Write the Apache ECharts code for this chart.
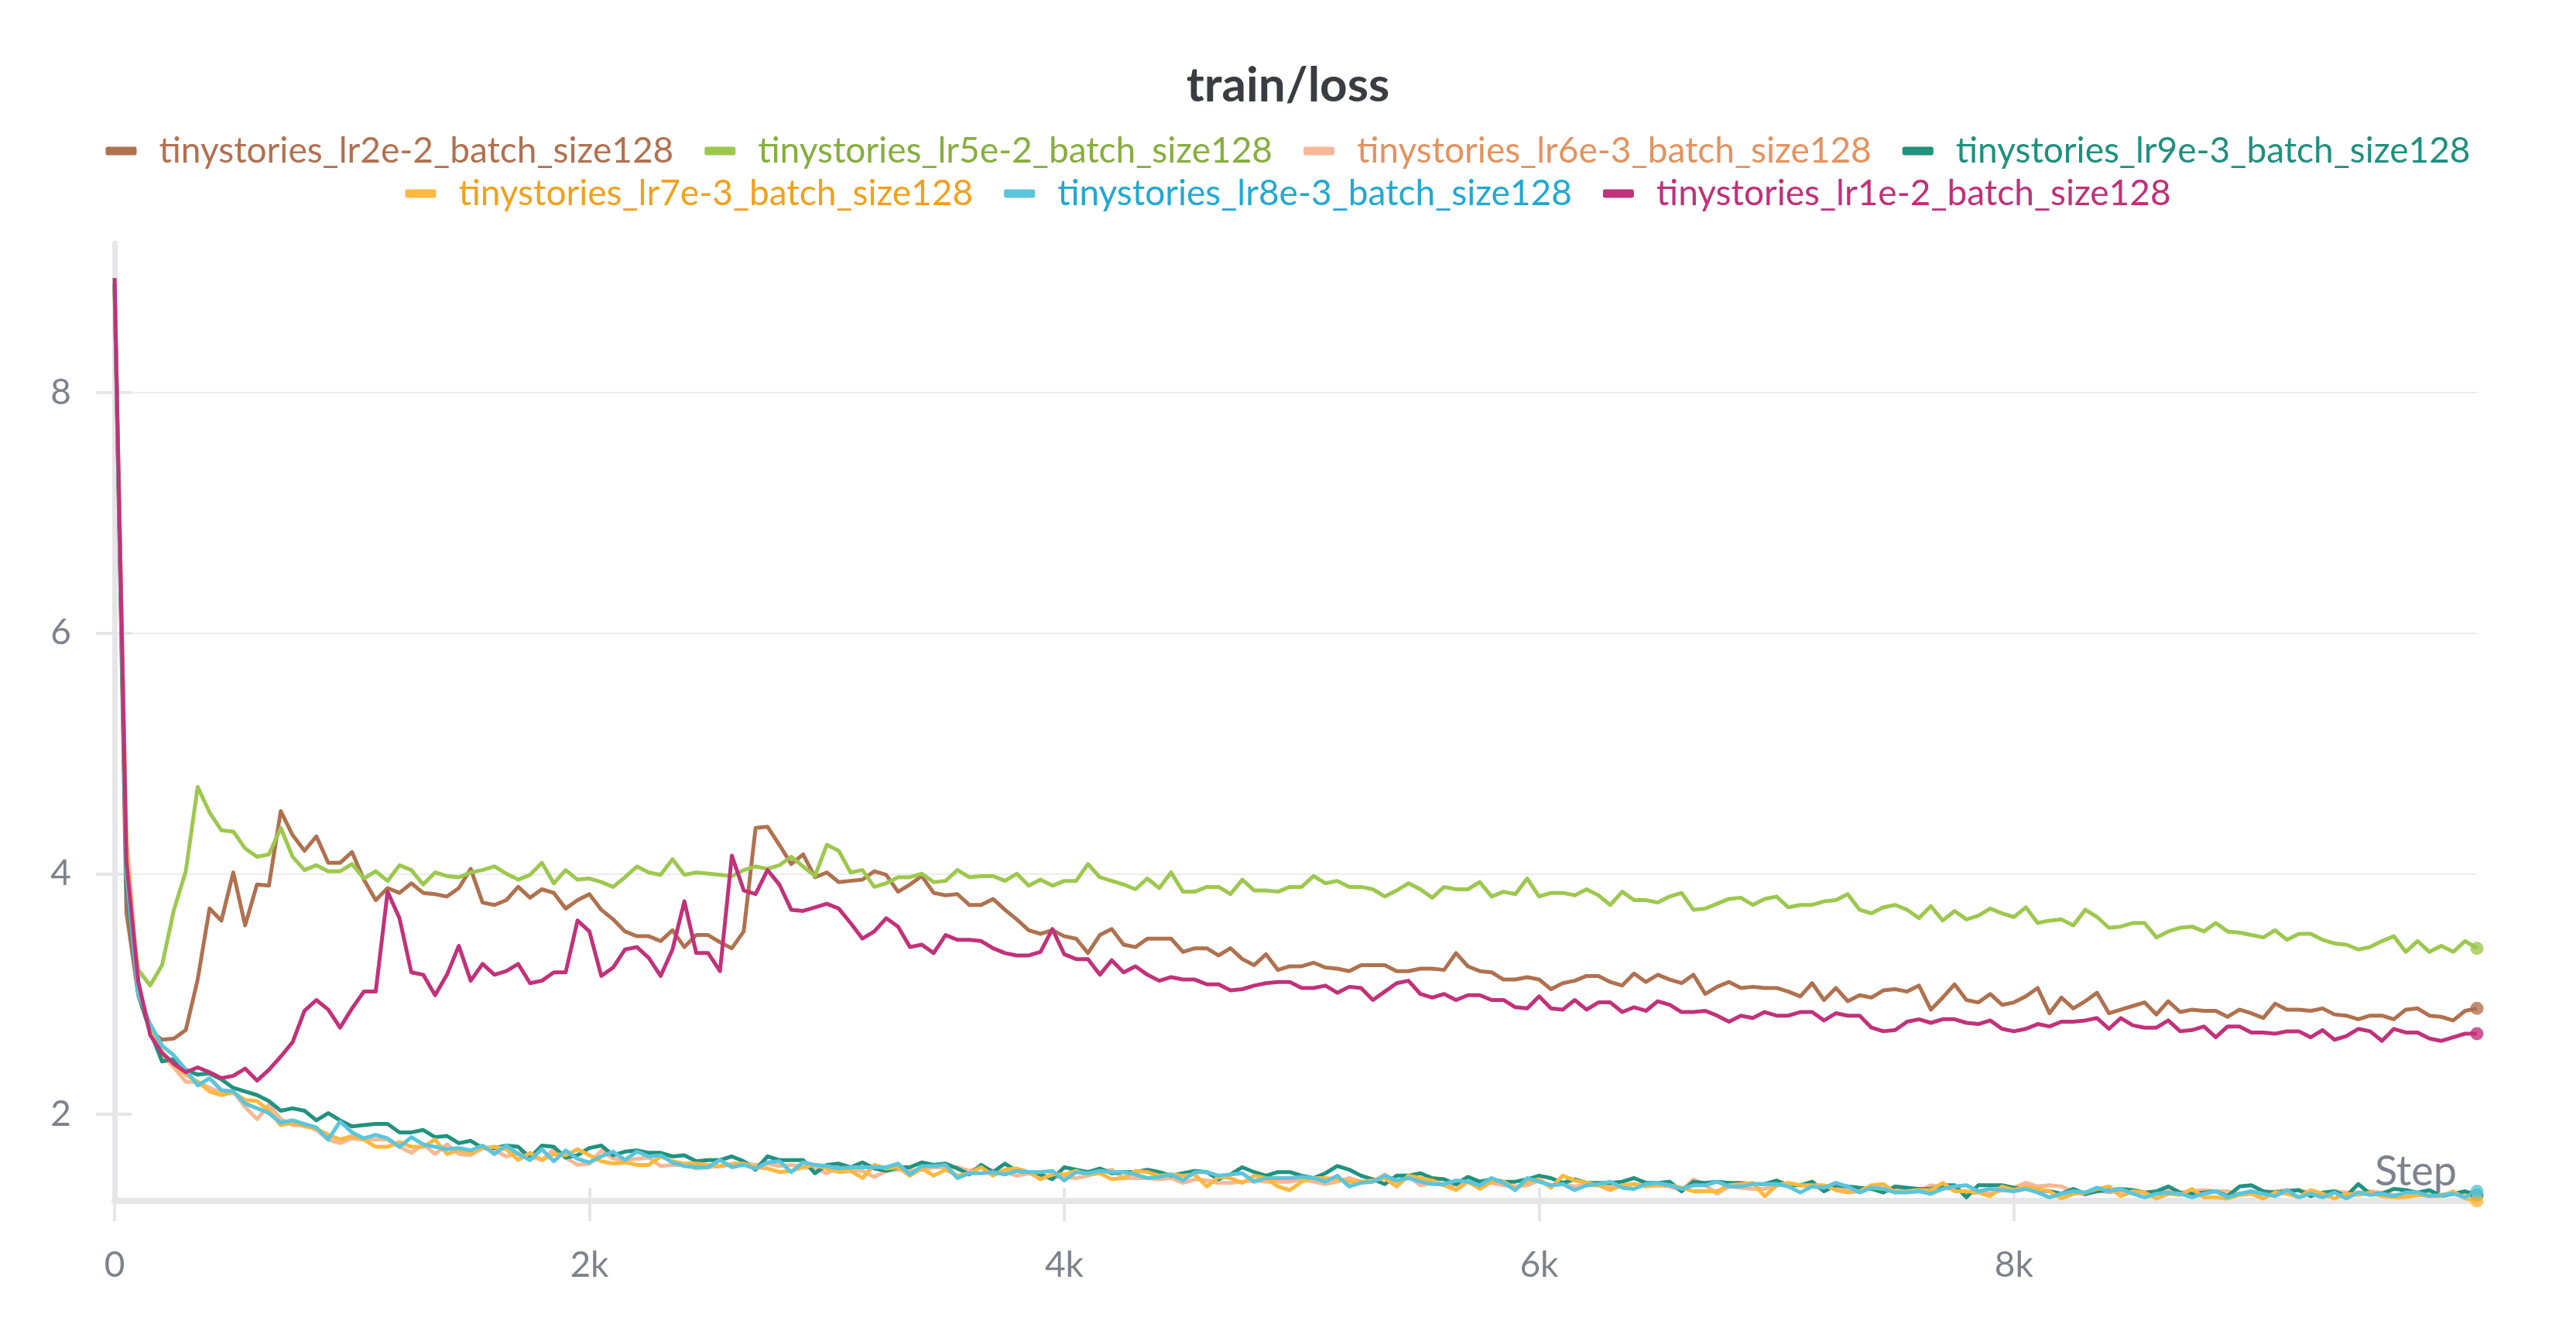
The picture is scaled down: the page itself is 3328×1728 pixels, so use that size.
<!DOCTYPE html>
<html><head><meta charset="utf-8">
<script src="https://cdn.jsdelivr.net/npm/echarts@6/dist/echarts.min.js"></script>
<style>html,body{margin:0;padding:0;background:#fff}#c{width:3328px;height:1728px}</style>
</head><body><div id="c"></div>
<script>
// logging interval of the runs (steps)
const STEP_INTERVAL = 50;

const seriesNames = [
  'tinystories_lr2e-2_batch_size128',
  'tinystories_lr5e-2_batch_size128',
  'tinystories_lr6e-3_batch_size128',
  'tinystories_lr9e-3_batch_size128',
  'tinystories_lr7e-3_batch_size128',
  'tinystories_lr8e-3_batch_size128',
  'tinystories_lr1e-2_batch_size128'
];

const lr2e2 = [
  8.9, 3.68, 2.99, 2.69, 2.62, 2.63, 2.70, 3.12, 3.71, 3.61,
  4.01, 3.57, 3.91, 3.90, 4.52, 4.32, 4.19, 4.31, 4.09, 4.09,
  4.18, 3.95, 3.78, 3.88, 3.84, 3.92, 3.84, 3.83, 3.81, 3.88,
  4.04, 3.76, 3.74, 3.78, 3.89, 3.80, 3.87, 3.84, 3.71, 3.78,
  3.83, 3.70, 3.62, 3.52, 3.48, 3.48, 3.44, 3.53, 3.39, 3.49,
  3.49, 3.43, 3.38, 3.52, 4.38, 4.39, 4.24, 4.08, 4.16, 3.97,
  4.01, 3.93, 3.94, 3.95, 4.02, 3.99, 3.85, 3.91, 3.98, 3.84,
  3.82, 3.83, 3.74, 3.74, 3.79, 3.70, 3.62, 3.53, 3.50, 3.53,
  3.48, 3.46, 3.34, 3.49, 3.54, 3.41, 3.39, 3.46, 3.46, 3.46,
  3.35, 3.38, 3.38, 3.32, 3.38, 3.29, 3.24, 3.33, 3.20, 3.23,
  3.23, 3.26, 3.22, 3.21, 3.19, 3.24, 3.24, 3.24, 3.19, 3.19,
  3.21, 3.21, 3.20, 3.34, 3.23, 3.19, 3.18, 3.12, 3.12, 3.14,
  3.12, 3.04, 3.09, 3.11, 3.15, 3.15, 3.10, 3.07, 3.17, 3.10,
  3.16, 3.12, 3.09, 3.16, 3.00, 3.06, 3.10, 3.05, 3.06, 3.05,
  3.05, 3.02, 2.98, 3.09, 2.95, 3.05, 2.94, 2.99, 2.97, 3.03,
  3.04, 3.02, 3.07, 2.87, 2.97, 3.08, 2.95, 2.93, 3.00, 2.91,
  2.93, 2.98, 3.05, 2.84, 2.97, 2.88, 2.94, 3.01, 2.84, 2.87,
  2.90, 2.93, 2.83, 2.94, 2.85, 2.87, 2.86, 2.86, 2.81, 2.87,
  2.84, 2.80, 2.92, 2.87, 2.87, 2.86, 2.88, 2.83, 2.82, 2.79,
  2.82, 2.82, 2.79, 2.87, 2.88, 2.82, 2.81, 2.78, 2.86, 2.88
];

const lr5e2 = [
  8.9, 3.97, 3.20, 3.07, 3.24, 3.70, 4.02, 4.72, 4.51, 4.36,
  4.35, 4.21, 4.14, 4.16, 4.38, 4.14, 4.03, 4.07, 4.02, 4.02,
  4.08, 3.96, 4.02, 3.94, 4.07, 4.03, 3.91, 4.01, 3.98, 3.97,
  4.01, 4.03, 4.06, 4.00, 3.95, 3.99, 4.09, 3.92, 4.03, 3.95,
  3.96, 3.93, 3.89, 3.97, 4.06, 4.01, 3.99, 4.12, 3.99, 4.01,
  4.00, 3.99, 3.98, 4.03, 4.06, 4.04, 4.07, 4.14, 4.06, 3.98,
  4.24, 4.19, 4.01, 4.03, 3.89, 3.92, 3.97, 3.97, 4.00, 3.93,
  3.94, 4.03, 3.97, 3.98, 3.98, 3.94, 4.00, 3.90, 3.95, 3.90,
  3.94, 3.94, 4.08, 3.97, 3.94, 3.91, 3.87, 3.96, 3.88, 4.01,
  3.85, 3.85, 3.89, 3.89, 3.83, 3.95, 3.86, 3.86, 3.85, 3.89,
  3.89, 3.98, 3.92, 3.94, 3.89, 3.89, 3.87, 3.81, 3.86, 3.92,
  3.87, 3.80, 3.89, 3.87, 3.87, 3.93, 3.81, 3.85, 3.83, 3.96,
  3.81, 3.84, 3.84, 3.82, 3.87, 3.82, 3.74, 3.85, 3.78, 3.78,
  3.76, 3.81, 3.84, 3.70, 3.71, 3.75, 3.79, 3.80, 3.74, 3.79,
  3.81, 3.72, 3.74, 3.74, 3.77, 3.78, 3.83, 3.70, 3.67, 3.72,
  3.74, 3.70, 3.63, 3.73, 3.61, 3.69, 3.62, 3.65, 3.71, 3.67,
  3.64, 3.72, 3.59, 3.61, 3.62, 3.57, 3.70, 3.64, 3.55, 3.56,
  3.59, 3.59, 3.47, 3.52, 3.55, 3.56, 3.52, 3.59, 3.52, 3.51,
  3.49, 3.47, 3.53, 3.45, 3.50, 3.50, 3.45, 3.42, 3.41, 3.37,
  3.39, 3.44, 3.48, 3.35, 3.44, 3.35, 3.40, 3.35, 3.44, 3.38
];

const lr6e3 = [
  8.9, 4.30, 3.10, 2.70, 2.49, 2.39, 2.27, 2.27, 2.22, 2.18,
  2.19, 2.06, 1.96, 2.08, 1.96, 1.91, 1.91, 1.87, 1.79, 1.76,
  1.80, 1.79, 1.79, 1.79, 1.73, 1.68, 1.75, 1.67, 1.75, 1.67,
  1.66, 1.72, 1.70, 1.65, 1.68, 1.65, 1.62, 1.71, 1.64, 1.58,
  1.59, 1.70, 1.63, 1.62, 1.63, 1.64, 1.57, 1.58, 1.58, 1.55,
  1.56, 1.57, 1.59, 1.59, 1.58, 1.59, 1.57, 1.58, 1.56, 1.55,
  1.51, 1.56, 1.54, 1.53, 1.48, 1.53, 1.54, 1.53, 1.54, 1.56,
  1.56, 1.56, 1.53, 1.56, 1.53, 1.52, 1.49, 1.51, 1.49, 1.48,
  1.48, 1.47, 1.49, 1.52, 1.54, 1.47, 1.47, 1.47, 1.46, 1.47,
  1.43, 1.46, 1.45, 1.43, 1.43, 1.44, 1.45, 1.44, 1.44, 1.44,
  1.46, 1.44, 1.42, 1.44, 1.47, 1.44, 1.44, 1.50, 1.44, 1.49,
  1.41, 1.43, 1.41, 1.41, 1.44, 1.41, 1.43, 1.41, 1.40, 1.41,
  1.45, 1.41, 1.42, 1.40, 1.41, 1.41, 1.40, 1.41, 1.42, 1.41,
  1.41, 1.40, 1.37, 1.46, 1.41, 1.34, 1.40, 1.39, 1.38, 1.38,
  1.41, 1.42, 1.41, 1.40, 1.38, 1.40, 1.37, 1.36, 1.40, 1.38,
  1.37, 1.37, 1.36, 1.41, 1.39, 1.38, 1.34, 1.35, 1.34, 1.37,
  1.39, 1.43, 1.40, 1.41, 1.40, 1.36, 1.33, 1.37, 1.35, 1.36,
  1.37, 1.35, 1.34, 1.36, 1.35, 1.36, 1.37, 1.36, 1.36, 1.34,
  1.34, 1.35, 1.36, 1.37, 1.37, 1.35, 1.34, 1.36, 1.35, 1.35,
  1.36, 1.35, 1.33, 1.34, 1.35, 1.34, 1.33, 1.34, 1.33, 1.33
];

const lr9e3 = [
  8.9, 3.90, 3.00, 2.69, 2.44, 2.46, 2.37, 2.33, 2.34, 2.29,
  2.22, 2.19, 2.16, 2.11, 2.03, 2.05, 2.03, 1.95, 2.01, 1.95,
  1.90, 1.91, 1.92, 1.92, 1.85, 1.85, 1.87, 1.81, 1.82, 1.76,
  1.78, 1.72, 1.72, 1.74, 1.73, 1.64, 1.74, 1.73, 1.64, 1.66,
  1.72, 1.74, 1.66, 1.69, 1.70, 1.68, 1.68, 1.65, 1.66, 1.61,
  1.62, 1.62, 1.65, 1.61, 1.54, 1.65, 1.62, 1.62, 1.62, 1.51,
  1.58, 1.59, 1.56, 1.60, 1.55, 1.53, 1.56, 1.56, 1.60, 1.58,
  1.59, 1.55, 1.50, 1.58, 1.52, 1.59, 1.53, 1.52, 1.50, 1.46,
  1.56, 1.54, 1.52, 1.55, 1.51, 1.52, 1.52, 1.54, 1.52, 1.49,
  1.51, 1.53, 1.52, 1.46, 1.50, 1.56, 1.52, 1.49, 1.52, 1.52,
  1.49, 1.47, 1.51, 1.57, 1.54, 1.49, 1.46, 1.42, 1.49, 1.49,
  1.51, 1.47, 1.46, 1.42, 1.48, 1.44, 1.46, 1.44, 1.44, 1.46,
  1.49, 1.47, 1.43, 1.46, 1.43, 1.43, 1.43, 1.44, 1.47, 1.43,
  1.43, 1.44, 1.36, 1.44, 1.43, 1.44, 1.43, 1.43, 1.42, 1.42,
  1.45, 1.41, 1.41, 1.44, 1.36, 1.41, 1.40, 1.39, 1.38, 1.35,
  1.40, 1.39, 1.38, 1.38, 1.41, 1.41, 1.31, 1.41, 1.41, 1.41,
  1.39, 1.38, 1.37, 1.36, 1.34, 1.38, 1.34, 1.36, 1.37, 1.38,
  1.37, 1.35, 1.36, 1.40, 1.35, 1.34, 1.35, 1.36, 1.32, 1.40,
  1.41, 1.36, 1.35, 1.36, 1.37, 1.32, 1.35, 1.36, 1.32, 1.42,
  1.34, 1.34, 1.38, 1.37, 1.35, 1.37, 1.32, 1.34, 1.36, 1.33
];

const lr7e3 = [
  8.9, 4.20, 3.05, 2.71, 2.52, 2.41, 2.33, 2.27, 2.19, 2.16,
  2.18, 2.12, 2.11, 2.03, 1.91, 1.93, 1.90, 1.88, 1.83, 1.79,
  1.82, 1.79, 1.73, 1.73, 1.77, 1.73, 1.73, 1.79, 1.67, 1.70,
  1.68, 1.72, 1.73, 1.71, 1.62, 1.68, 1.62, 1.67, 1.66, 1.71,
  1.66, 1.61, 1.59, 1.60, 1.58, 1.58, 1.65, 1.61, 1.59, 1.59,
  1.58, 1.57, 1.58, 1.59, 1.56, 1.55, 1.52, 1.53, 1.56, 1.58,
  1.55, 1.52, 1.53, 1.47, 1.58, 1.55, 1.56, 1.49, 1.55, 1.49,
  1.54, 1.49, 1.51, 1.56, 1.49, 1.54, 1.55, 1.52, 1.46, 1.50,
  1.50, 1.53, 1.50, 1.51, 1.46, 1.47, 1.53, 1.52, 1.49, 1.50,
  1.49, 1.50, 1.40, 1.48, 1.47, 1.43, 1.49, 1.47, 1.40, 1.37,
  1.44, 1.47, 1.47, 1.46, 1.44, 1.44, 1.45, 1.47, 1.40, 1.49,
  1.47, 1.45, 1.41, 1.37, 1.44, 1.38, 1.44, 1.44, 1.38, 1.44,
  1.46, 1.39, 1.49, 1.45, 1.43, 1.41, 1.37, 1.41, 1.42, 1.40,
  1.41, 1.41, 1.39, 1.36, 1.36, 1.36, 1.41, 1.42, 1.43, 1.32,
  1.41, 1.43, 1.41, 1.41, 1.41, 1.37, 1.35, 1.36, 1.41, 1.42,
  1.35, 1.36, 1.37, 1.37, 1.43, 1.36, 1.36, 1.35, 1.32, 1.40,
  1.37, 1.40, 1.38, 1.36, 1.30, 1.34, 1.35, 1.38, 1.40, 1.32,
  1.36, 1.35, 1.30, 1.34, 1.33, 1.38, 1.31, 1.31, 1.30, 1.33,
  1.34, 1.30, 1.35, 1.34, 1.31, 1.37, 1.34, 1.30, 1.34, 1.33,
  1.35, 1.32, 1.31, 1.31, 1.33, 1.32, 1.32, 1.36, 1.30, 1.28
];

const lr8e3 = [
  8.9, 4.00, 3.00, 2.75, 2.57, 2.49, 2.37, 2.24, 2.30, 2.20,
  2.19, 2.09, 2.05, 2.01, 1.93, 1.95, 1.92, 1.89, 1.79, 1.94,
  1.85, 1.80, 1.83, 1.80, 1.73, 1.81, 1.75, 1.73, 1.71, 1.72,
  1.70, 1.74, 1.67, 1.74, 1.67, 1.62, 1.71, 1.61, 1.70, 1.63,
  1.60, 1.65, 1.69, 1.62, 1.69, 1.65, 1.66, 1.60, 1.57, 1.56,
  1.56, 1.62, 1.56, 1.58, 1.55, 1.60, 1.61, 1.52, 1.60, 1.58,
  1.57, 1.55, 1.56, 1.56, 1.56, 1.56, 1.59, 1.50, 1.57, 1.57,
  1.58, 1.47, 1.51, 1.51, 1.52, 1.50, 1.53, 1.52, 1.52, 1.53,
  1.45, 1.52, 1.51, 1.53, 1.52, 1.52, 1.50, 1.47, 1.48, 1.50,
  1.45, 1.52, 1.52, 1.49, 1.50, 1.51, 1.44, 1.47, 1.47, 1.47,
  1.48, 1.47, 1.44, 1.49, 1.40, 1.43, 1.44, 1.49, 1.45, 1.47,
  1.44, 1.42, 1.42, 1.45, 1.44, 1.41, 1.47, 1.43, 1.37, 1.47,
  1.44, 1.41, 1.42, 1.37, 1.41, 1.42, 1.44, 1.39, 1.38, 1.42,
  1.43, 1.41, 1.38, 1.41, 1.41, 1.44, 1.40, 1.40, 1.42, 1.42,
  1.42, 1.40, 1.35, 1.40, 1.39, 1.43, 1.40, 1.35, 1.39, 1.38,
  1.35, 1.35, 1.36, 1.34, 1.38, 1.40, 1.41, 1.36, 1.38, 1.37,
  1.36, 1.38, 1.35, 1.31, 1.34, 1.36, 1.35, 1.39, 1.36, 1.38,
  1.34, 1.31, 1.34, 1.35, 1.34, 1.31, 1.34, 1.36, 1.31, 1.34,
  1.36, 1.34, 1.32, 1.37, 1.31, 1.34, 1.31, 1.35, 1.30, 1.35,
  1.33, 1.34, 1.32, 1.35, 1.35, 1.32, 1.33, 1.34, 1.31, 1.36
];

const lr1e2 = [
  8.95, 4.10, 3.10, 2.66, 2.51, 2.42, 2.35, 2.39, 2.35, 2.30,
  2.32, 2.38, 2.28, 2.37, 2.48, 2.60, 2.86, 2.95, 2.87, 2.72,
  2.88, 3.02, 3.02, 3.85, 3.63, 3.18, 3.16, 2.99, 3.16, 3.40,
  3.11, 3.25, 3.16, 3.19, 3.25, 3.09, 3.11, 3.18, 3.18, 3.61,
  3.52, 3.15, 3.22, 3.37, 3.39, 3.30, 3.15, 3.37, 3.77, 3.34,
  3.34, 3.19, 4.15, 3.86, 3.83, 4.03, 3.91, 3.70, 3.69, 3.72,
  3.75, 3.71, 3.59, 3.46, 3.52, 3.63, 3.56, 3.39, 3.41, 3.34,
  3.49, 3.45, 3.45, 3.44, 3.38, 3.34, 3.32, 3.32, 3.35, 3.54,
  3.33, 3.29, 3.29, 3.16, 3.28, 3.18, 3.23, 3.16, 3.11, 3.14,
  3.12, 3.12, 3.08, 3.08, 3.03, 3.04, 3.07, 3.09, 3.10, 3.10,
  3.05, 3.05, 3.07, 3.01, 3.06, 3.05, 2.95, 3.02, 3.09, 3.11,
  3.00, 2.97, 3.00, 2.95, 2.99, 2.99, 2.95, 2.95, 2.89, 2.88,
  2.98, 2.88, 2.87, 2.95, 2.87, 2.93, 2.93, 2.85, 2.89, 2.86,
  2.94, 2.91, 2.85, 2.85, 2.86, 2.82, 2.77, 2.82, 2.80, 2.85,
  2.82, 2.82, 2.85, 2.85, 2.78, 2.84, 2.82, 2.82, 2.72, 2.69,
  2.70, 2.77, 2.79, 2.76, 2.79, 2.79, 2.76, 2.75, 2.78, 2.71,
  2.69, 2.71, 2.75, 2.73, 2.77, 2.77, 2.78, 2.80, 2.71, 2.80,
  2.74, 2.72, 2.72, 2.78, 2.69, 2.70, 2.73, 2.64, 2.73, 2.73,
  2.68, 2.68, 2.67, 2.69, 2.69, 2.64, 2.70, 2.62, 2.65, 2.71,
  2.69, 2.61, 2.71, 2.68, 2.68, 2.63, 2.61, 2.64, 2.67, 2.67
];

const seriesValues = [lr2e2, lr5e2, lr6e3, lr9e3, lr7e3, lr8e3, lr1e2];
const lineColors = ['#b0714f', '#9dc84e', '#f8b895', '#21927f', '#ffb83f', '#5bc5dc', '#c2317a'];
const textColors = ['#b0714f', '#86ae3e', '#e3935f', '#1f8f7f', '#f0a11d', '#21a8d3', '#c0307a'];

const xTicks = [0, 2000, 4000, 6000, 8000];
const yTicks = [2, 4, 6, 8];
const X_MAX = 9950, Y_MIN = 1.28, Y_MAX = 9.24;

const FONT = 'Lato, "Noto Sans", sans-serif';
const AXIS_GRAY = '#e6e6e9';
const LABEL_GRAY = '#7d828c';

const chart = echarts.init(document.getElementById('c'), null, {renderer: 'canvas'});

const series = [];
seriesNames.forEach((name, i) => {
  const vals = seriesValues[i];
  const data = vals.map((v, k) => [k * STEP_INTERVAL, v]);
  series.push({
    name, type: 'line', data, showSymbol: false, symbol: 'none',
    color: lineColors[i],
    lineStyle: {width: 5, color: lineColors[i], join: 'round'},
    z: 3 + i, silent: true, clip: false
  });
  series.push({
    name, type: 'scatter', data: [data[data.length - 1]],
    symbolSize: 17, itemStyle: {color: lineColors[i]}, z: 20 + i, silent: true
  });
});

const legendItems = seriesNames.map((n, i) => ({name: n, textStyle: {color: textColors[i]}}));
const legendCommon = {
  left: 'center', orient: 'horizontal', icon: 'roundRect',
  itemWidth: 40, itemHeight: 11, itemGap: 40, selectedMode: false,
  textStyle: {fontSize: 46, fontFamily: FONT, padding: [0, 0, 0, 24]}
};

chart.setOption({
  animation: false,
  backgroundColor: '#ffffff',
  title: {
    text: 'train/loss', left: 'center', top: 75,
    textStyle: {fontSize: 62, fontWeight: 'bold', color: '#3b3c41', fontFamily: FONT}
  },
  legend: [
    Object.assign({}, legendCommon, {top: 167, data: legendItems.slice(0, 4)}),
    Object.assign({}, legendCommon, {top: 222, data: legendItems.slice(4)})
  ],
  grid: {left: 148, right: 128, top: 314, bottom: 177, containLabel: false},
  xAxis: [{
    type: 'value', min: 0, max: X_MAX, interval: 2000,
    name: 'Step', nameLocation: 'end', nameGap: -26,
    nameTextStyle: {align: 'right', verticalAlign: 'bottom', fontSize: 54, color: LABEL_GRAY, fontFamily: FONT, padding: [0, 0, 10, 0]},
    axisLine: {show: true, lineStyle: {color: AXIS_GRAY, width: 8}},
    axisTick: {show: true, length: 26, customValues: xTicks, lineStyle: {color: AXIS_GRAY, width: 4}},
    axisLabel: {
      customValues: xTicks, margin: 60, fontSize: 46, color: LABEL_GRAY, fontFamily: FONT,
      formatter: v => (v === 0 ? '0' : (v / 1000) + 'k')
    },
    splitLine: {show: false}
  }, {
    type: 'value', min: 0, max: X_MAX, position: 'bottom',
    axisLine: {show: false},
    axisTick: {show: true, inside: true, length: 17, customValues: xTicks, lineStyle: {color: AXIS_GRAY, width: 4}},
    axisLabel: {show: false}, splitLine: {show: false}
  }],
  yAxis: [{
    type: 'value', min: Y_MIN, max: Y_MAX,
    axisLine: {show: true, lineStyle: {color: AXIS_GRAY, width: 7}},
    axisTick: {show: true, length: 24, customValues: yTicks, lineStyle: {color: AXIS_GRAY, width: 4}},
    axisLabel: {customValues: yTicks, margin: 56, fontSize: 46, color: LABEL_GRAY, fontFamily: FONT},
    splitLine: {show: true, showMinLine: false, showMaxLine: true, lineStyle: {color: '#ececee', width: 2}}
  }, {
    type: 'value', min: Y_MIN, max: Y_MAX, position: 'left',
    axisLine: {show: false},
    axisTick: {show: true, inside: true, length: 22, customValues: yTicks, lineStyle: {color: AXIS_GRAY, width: 4}},
    axisLabel: {show: false}, splitLine: {show: false}
  }],
  series
});
</script>
</body></html>
